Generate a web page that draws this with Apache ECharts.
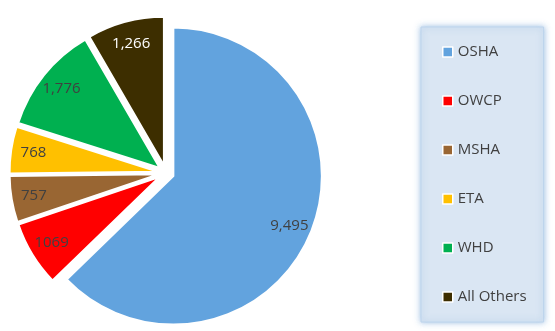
<!DOCTYPE html>
<html>
<head>
<meta charset="utf-8">
<script src="https://cdn.jsdelivr.net/npm/echarts@6/dist/echarts.min.js"></script>
<style>html,body{margin:0;padding:0;background:#fff;}#c{width:555px;height:331px;}</style>
</head>
<body>
<div id="c"></div>
<script>
var categories = ['OSHA', 'OWCP', 'MSHA', 'ETA', 'WHD', 'All Others'];
var values = [9495, 1069, 757, 768, 1776, 1266];
var valueLabels = ['9,495', '1069', '757', '768', '1,776', '1,266'];
var colors = ['#62a3de', '#ff0000', '#996633', '#ffc000', '#00b050', '#3d2e00'];
var labelColors = ['#404040', '#404040', '#404040', '#404040', '#404040', '#ffffff'];

var FONT = '"Open Sans", "Liberation Sans", sans-serif';
var chart = echarts.init(document.getElementById('c'), null, {renderer: 'canvas'});

var mainData = categories.map(function (n, i) {
  return {name: n, value: values[i], selected: true, itemStyle: {color: colors[i]}};
});
var labelData = categories.map(function (n, i) {
  return {name: n, value: values[i],
    label: {formatter: valueLabels[i], color: labelColors[i]}};
});

chart.setOption({
  animation: false,
  legend: {
    orient: 'vertical',
    left: 421,
    top: 27,
    padding: [17, 17, 17, 21],
    itemWidth: 10,
    itemHeight: 10,
    itemGap: 33,
    icon: 'rect',
    data: categories,
    itemStyle: {borderColor: '#ffffff', borderWidth: 1.5},
    textStyle: {fontFamily: FONT, fontSize: 15, color: '#404040', lineHeight: 16},
    backgroundColor: '#dae6f3',
    borderColor: '#bcd4ec',
    borderWidth: 1,
    shadowBlur: 6,
    shadowColor: 'rgba(120,165,215,0.7)',
    selectedMode: false
  },
  series: [{
    type: 'pie',
    z: 2,
    center: [166, 173],
    radius: [0, 148.5],
    startAngle: 90,
    clockwise: true,
    selectedMode: 'multiple',
    selectedOffset: 8,
    avoidLabelOverlap: false,
    silent: true,
    itemStyle: {borderColor: '#ffffff', borderWidth: 2},
    select: {itemStyle: {borderColor: '#ffffff', borderWidth: 2}},
    label: {show: false},
    labelLine: {show: false},
    data: mainData
  }, {
    type: 'pie',
    z: 6,
    center: [166, 173],
    radius: [100, 162],
    startAngle: 90,
    clockwise: true,
    silent: true,
    avoidLabelOverlap: false,
    itemStyle: {color: 'rgba(255,255,255,0)', borderWidth: 0},
    label: {show: true, position: 'inner', fontFamily: FONT, fontSize: 15},
    labelLine: {show: false},
    data: labelData
  }]
});
</script>
</body>
</html>
